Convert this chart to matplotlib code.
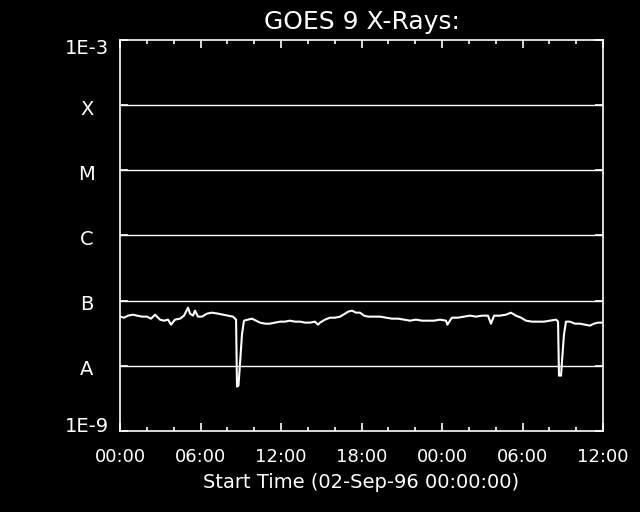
import numpy as np
import matplotlib
matplotlib.use("Agg")
import matplotlib.pyplot as plt
from matplotlib.ticker import NullLocator, FixedLocator
import matplotlib.transforms as mtransforms

matplotlib.rcParams["font.family"] = "DejaVu Sans"

# GOES 9 soft X-ray flux, hours since 02-Sep-96 00:00
hours = [0.00, 0.30, 0.60, 0.97, 1.27, 1.64, 2.01, 2.31, 2.61, 2.98,
         3.28, 3.58, 3.80, 4.10, 4.47, 4.77, 4.92, 5.07, 5.22, 5.44,
         5.59, 5.81, 6.11, 6.48, 6.86, 7.30, 7.68, 8.05, 8.42, 8.65,
         8.72, 8.83, 8.94, 9.09, 9.24, 9.54, 9.84, 10.14, 10.43, 10.81,
         11.18, 11.55, 11.93, 12.30, 12.67, 13.04, 13.42, 13.79, 14.16, 14.53,
         14.76, 14.91, 15.28, 15.65, 16.03, 16.40, 16.77, 17.00, 17.29, 17.59,
         17.89, 18.19, 18.48, 18.93, 19.38, 19.83, 20.27, 20.72, 21.17, 21.61,
         22.06, 22.51, 22.96, 23.40, 23.85, 24.30, 24.40, 24.74, 25.19, 25.64,
         26.09, 26.53, 26.98, 27.43, 27.65, 27.88, 28.32, 28.77, 29.14, 29.51,
         29.89, 30.26, 30.71, 31.15, 31.60, 32.05, 32.50, 32.65, 32.72, 32.87,
         32.98, 33.09, 33.24, 33.54, 33.91, 34.28, 34.66, 35.03, 35.33, 35.63,
         36.00]
log_flux = [-7.245, -7.261, -7.230, -7.215, -7.230, -7.245, -7.245, -7.276, -7.215, -7.291,
            -7.307, -7.291, -7.368, -7.291, -7.276, -7.230, -7.169, -7.107, -7.199, -7.230,
            -7.153, -7.245, -7.245, -7.199, -7.184, -7.199, -7.215, -7.230, -7.245, -7.291,
            -8.319, -8.304, -7.982, -7.521, -7.307, -7.291, -7.276, -7.307, -7.337, -7.353,
            -7.353, -7.337, -7.322, -7.322, -7.307, -7.322, -7.322, -7.337, -7.337, -7.322,
            -7.368, -7.337, -7.291, -7.261, -7.261, -7.245, -7.199, -7.169, -7.153, -7.184,
            -7.184, -7.230, -7.245, -7.245, -7.245, -7.261, -7.276, -7.276, -7.291, -7.307,
            -7.291, -7.307, -7.307, -7.307, -7.291, -7.307, -7.368, -7.261, -7.261, -7.245,
            -7.230, -7.245, -7.230, -7.230, -7.353, -7.230, -7.230, -7.215, -7.184, -7.230,
            -7.261, -7.307, -7.322, -7.322, -7.322, -7.307, -7.291, -7.322, -8.150, -8.150,
            -7.828, -7.521, -7.322, -7.322, -7.353, -7.353, -7.368, -7.383, -7.353, -7.337,
            -7.337]

flux = 10.0 ** np.array(log_flux)

ytick_vals = [1e-9, 1e-8, 1e-7, 1e-6, 1e-5, 1e-4, 1e-3]
ytick_labels = ["1E-9", "A", "B", "C", "M", "X", "1E-3"]
class_levels = [1e-8, 1e-7, 1e-6, 1e-5, 1e-4]
xtick_vals = [0, 6, 12, 18, 24, 30, 36]
xtick_labels = ["00:00", "06:00", "12:00", "18:00", "00:00", "06:00", "12:00"]

fig = plt.figure(figsize=(6.4, 5.12), dpi=100, facecolor="black")
ax = fig.add_axes([120 / 640, 81 / 512, 483 / 640, 391 / 512], facecolor="black")

for lev in class_levels:
    ax.axhline(lev, color="white", lw=1.0)

ax.plot(hours, flux, color="white", lw=1.5)

ax.set_yscale("log")
ax.set_ylim(1e-9, 1e-3)
ax.set_xlim(0, 36)

ax.yaxis.set_major_locator(FixedLocator(ytick_vals))
ax.yaxis.set_minor_locator(NullLocator())
ax.set_yticklabels(ytick_labels)
ax.set_xticks(xtick_vals)
ax.set_xticklabels(xtick_labels)
ax.xaxis.set_minor_locator(FixedLocator(np.arange(0, 37, 2)))

ax.tick_params(axis="both", which="both", direction="in", colors="white",
               top=True, right=True, width=1.2, labelsize=13)
ax.tick_params(axis="x", which="major", length=6, pad=12)
ax.tick_params(axis="x", which="minor", length=3)
ax.tick_params(axis="y", which="major", length=6, pad=24, labelsize=14)

for lab in ax.get_yticklabels():
    lab.set_horizontalalignment("center")
shifts = [6, -2, -2, -2, -2, -2, -6]
for lab, dy in zip(ax.get_yticklabels(), shifts):
    lab.set_transform(lab.get_transform() +
                      mtransforms.ScaledTranslation(0, dy / 100, fig.dpi_scale_trans))

for sp in ax.spines.values():
    sp.set_color("white")
    sp.set_linewidth(1.2)

ax.set_title("GOES 9 X-Rays:", color="white", fontsize=18, pad=8)
ax.set_xlabel("Start Time (02-Sep-96 00:00:00)", color="white", fontsize=14, labelpad=5)

fig.savefig("out.png", dpi=100, facecolor="black")
